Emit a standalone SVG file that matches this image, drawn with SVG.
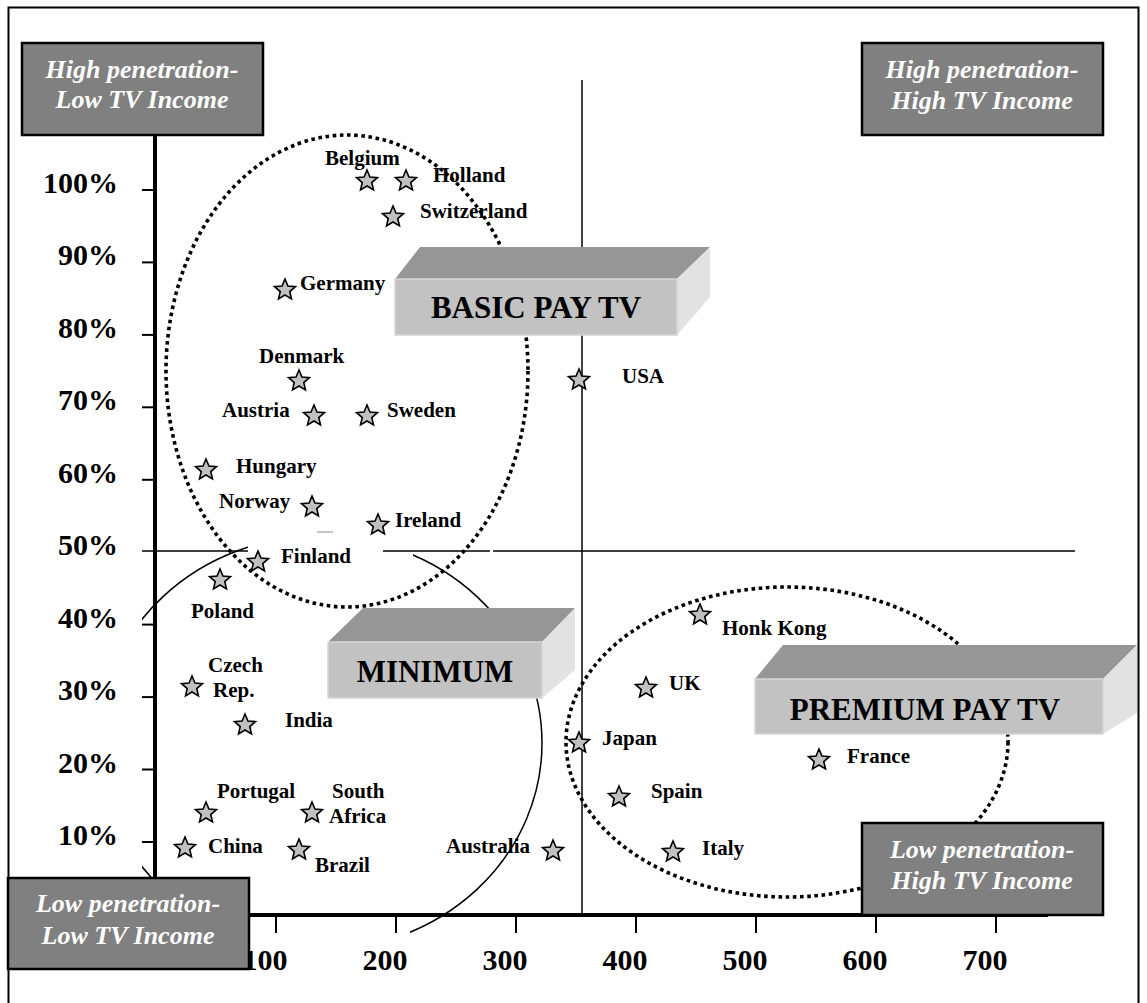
<svg xmlns="http://www.w3.org/2000/svg" xmlns:xlink="http://www.w3.org/1999/xlink" width="1147" height="1003" viewBox="0 0 1147 1003">
  <style>
    .frame { stroke: #000; stroke-width: 2; fill: none; }
    .axis { stroke: #000; stroke-width: 4; fill: none; }
    .tick { stroke: #000; stroke-width: 2; fill: none; }
    .thin { stroke: #000; stroke-width: 1.5; fill: none; }
    .dotted { stroke: #000; stroke-width: 3.6; fill: none; stroke-dasharray: 3.6 3.6; }
    .pct { font-family: "Liberation Serif", "Times New Roman", serif; font-weight: bold; font-size: 30px; fill: #000; text-anchor: end; }
    .xl { font-family: "Liberation Serif", "Times New Roman", serif; font-weight: bold; font-size: 30px; fill: #000; text-anchor: middle; }
    .lbl { font-family: "Liberation Serif", "Times New Roman", serif; font-weight: bold; font-size: 21px; fill: #000; }
    .corner rect { fill: #808080; stroke: #000; stroke-width: 2.5; }
    .corner text { font-family: "Liberation Serif", "Times New Roman", serif; font-weight: bold; font-style: italic; font-size: 26px; fill: #fff; text-anchor: middle; }
    .lid { fill: #969696; }
    .front { fill: #c2c2c2; stroke: #d6d6d6; stroke-width: 1.5; }
    .side { fill: #e2e2e2; }
    .boxlbl { font-family: "Liberation Serif", "Times New Roman", serif; font-weight: bold; font-size: 31px; fill: #000; text-anchor: middle; }
    .star { fill: #c0c0c0; stroke: #000; stroke-width: 1.6; stroke-linejoin: miter; }
  </style>
  <defs>
    <path id="star" class="star" d="M0,-11 L2.94,-4.05 L10.46,-3.4 L4.76,1.55 L6.47,8.9 L0,5 L-6.47,8.9 L-4.76,1.55 L-10.46,-3.4 L-2.94,-4.05 Z"/>
    <clipPath id="minClip">
      <path clip-rule="evenodd" d="M142,0 H1147 V1003 H142 Z M248,520 H413 V575 H248 Z M250,925 H410 V1003 H250 Z"/>
    </clipPath>
  </defs>

  <rect x="0" y="0" width="1147" height="1003" fill="#fff"/>
  <path class="frame" d="M8.5,1003 V7.5 H1138.5 V1003"/>

  <!-- axes, ticks and quadrant dividers -->
  <g id="axes">
    <line class="axis" x1="155" y1="135" x2="155" y2="917"/>
    <line class="axis" x1="155" y1="915" x2="1048" y2="915"/>
    <g class="tick">
      <line x1="142" y1="190" x2="155" y2="190"/>
      <line x1="142" y1="262.4" x2="155" y2="262.4"/>
      <line x1="142" y1="334.9" x2="155" y2="334.9"/>
      <line x1="142" y1="407.3" x2="155" y2="407.3"/>
      <line x1="142" y1="479.8" x2="155" y2="479.8"/>
      <line x1="142" y1="624.6" x2="155" y2="624.6"/>
      <line x1="142" y1="697.1" x2="155" y2="697.1"/>
      <line x1="142" y1="769.5" x2="155" y2="769.5"/>
      <line x1="142" y1="842" x2="155" y2="842"/>
      <line x1="276" y1="915" x2="276" y2="933"/>
      <line x1="396" y1="915" x2="396" y2="933"/>
      <line x1="516" y1="915" x2="516" y2="933"/>
      <line x1="636" y1="915" x2="636" y2="933"/>
      <line x1="756" y1="915" x2="756" y2="933"/>
      <line x1="876" y1="915" x2="876" y2="933"/>
      <line x1="996" y1="915" x2="996" y2="933"/>
    </g>
    <g class="thin">
      <line x1="582" y1="80" x2="582" y2="915"/>
      <line x1="142" y1="551" x2="248" y2="551"/>
      <line x1="383" y1="551" x2="490" y2="551"/>
      <line x1="493" y1="551" x2="1075" y2="551"/>
    </g>
    <line x1="317" y1="532" x2="333" y2="532" stroke="#b0b0b0" stroke-width="1.5"/>
    <g class="pct">
      <text x="118" y="193">100%</text>
      <text x="118" y="265">90%</text>
      <text x="118" y="338">80%</text>
      <text x="118" y="410">70%</text>
      <text x="118" y="483">60%</text>
      <text x="118" y="555">50%</text>
      <text x="118" y="628">40%</text>
      <text x="118" y="700">30%</text>
      <text x="118" y="773">20%</text>
      <text x="118" y="845">10%</text>
    </g>
    <g class="xl">
      <text x="265" y="970">100</text>
      <text x="385" y="970">200</text>
      <text x="505" y="970">300</text>
      <text x="625" y="970">400</text>
      <text x="745" y="970">500</text>
      <text x="865" y="970">600</text>
      <text x="985" y="970">700</text>
    </g>
  </g>

  <!-- group outlines -->
  <g id="connectors">
    <ellipse class="thin" cx="320" cy="743" rx="222" ry="207" clip-path="url(#minClip)"/>
    <ellipse class="dotted" cx="347" cy="371" rx="181" ry="236"/>
    <ellipse class="dotted" cx="787" cy="742" rx="221" ry="155"/>
  </g>

  <!-- countries -->
  <g id="countries">
    <g id="belgium"><use xlink:href="#star" x="367" y="181"/><text class="lbl" x="325" y="165">Belgium</text></g>
    <g id="holland"><use xlink:href="#star" x="406" y="181"/><text class="lbl" x="433" y="182">Holland</text></g>
    <g id="switzerland"><use xlink:href="#star" x="393" y="217"/><text class="lbl" x="420" y="218">Switzerland</text></g>
    <g id="germany"><use xlink:href="#star" x="285" y="290"/><text class="lbl" x="300" y="290">Germany</text></g>
    <g id="denmark"><use xlink:href="#star" x="299" y="381"/><text class="lbl" x="259" y="363">Denmark</text></g>
    <g id="austria"><use xlink:href="#star" x="314" y="416"/><text class="lbl" x="222" y="417">Austria</text></g>
    <g id="sweden"><use xlink:href="#star" x="367" y="416"/><text class="lbl" x="387" y="417">Sweden</text></g>
    <g id="usa"><use xlink:href="#star" x="579" y="380"/><text class="lbl" x="622" y="383">USA</text></g>
    <g id="hungary"><use xlink:href="#star" x="206" y="470"/><text class="lbl" x="236" y="473">Hungary</text></g>
    <g id="norway"><use xlink:href="#star" x="312" y="507"/><text class="lbl" x="219" y="508">Norway</text></g>
    <g id="ireland"><use xlink:href="#star" x="378" y="525"/><text class="lbl" x="395" y="527">Ireland</text></g>
    <g id="finland"><use xlink:href="#star" x="258" y="562"/><text class="lbl" x="281" y="563">Finland</text></g>
    <g id="poland"><use xlink:href="#star" x="220" y="580"/><text class="lbl" x="191" y="618">Poland</text></g>
    <g id="czech"><use xlink:href="#star" x="192" y="687"/><text class="lbl" x="208" y="672">Czech</text><text class="lbl" x="213" y="697">Rep.</text></g>
    <g id="india"><use xlink:href="#star" x="245" y="725"/><text class="lbl" x="285" y="727">India</text></g>
    <g id="portugal"><use xlink:href="#star" x="206" y="813"/><text class="lbl" x="217" y="798">Portugal</text></g>
    <g id="south-africa"><use xlink:href="#star" x="312" y="813"/><text class="lbl" x="332" y="798">South</text><text class="lbl" x="329" y="823">Africa</text></g>
    <g id="china"><use xlink:href="#star" x="185" y="848"/><text class="lbl" x="208" y="853">China</text></g>
    <g id="brazil"><use xlink:href="#star" x="299" y="850"/><text class="lbl" x="315" y="872">Brazil</text></g>
    <g id="australia"><use xlink:href="#star" x="553" y="851"/><text class="lbl" x="446" y="853">Australia</text></g>
    <g id="hong-kong"><use xlink:href="#star" x="700" y="615"/><text class="lbl" x="722" y="635">Honk Kong</text></g>
    <g id="uk"><use xlink:href="#star" x="646" y="688"/><text class="lbl" x="669" y="690">UK</text></g>
    <g id="japan"><use xlink:href="#star" x="579" y="743"/><text class="lbl" x="602" y="745">Japan</text></g>
    <g id="spain"><use xlink:href="#star" x="619" y="797"/><text class="lbl" x="651" y="798">Spain</text></g>
    <g id="italy"><use xlink:href="#star" x="673" y="852"/><text class="lbl" x="702" y="855">Italy</text></g>
    <g id="france"><use xlink:href="#star" x="819" y="760"/><text class="lbl" x="847" y="763">France</text></g>
  </g>

  <!-- segment blocks -->
  <g id="basic-pay-tv">
    <polygon class="lid" points="395,279 420,247 710,247 677,279"/>
    <polygon class="side" points="677,279 710,247 710,297 677,335"/>
    <rect class="front" x="395" y="279" width="282" height="56"/>
    <text class="boxlbl" x="536" y="318">BASIC PAY TV</text>
  </g>
  <g id="minimum">
    <polygon class="lid" points="328,642 363,608 575,608 542,642"/>
    <polygon class="side" points="542,642 575,608 575,670 542,698"/>
    <rect class="front" x="328" y="642" width="214" height="56"/>
    <text class="boxlbl" x="435" y="682">MINIMUM</text>
  </g>
  <g id="premium-pay-tv">
    <polygon class="lid" points="755,679 783,645 1137,645 1103,679"/>
    <polygon class="side" points="1103,679 1137,645 1137,713 1103,734"/>
    <rect class="front" x="755" y="679" width="348" height="55"/>
    <text class="boxlbl" x="925" y="720">PREMIUM PAY TV</text>
  </g>

  <!-- quadrant captions -->
  <g id="high-low" class="corner">
    <rect x="22" y="43" width="241" height="92"/>
    <text x="142" y="78">High penetration-</text>
    <text x="142" y="108">Low TV Income</text>
  </g>
  <g id="high-high" class="corner">
    <rect x="862" y="43" width="241" height="92"/>
    <text x="982" y="78">High penetration-</text>
    <text x="982" y="109">High TV Income</text>
  </g>
  <g id="low-low" class="corner">
    <rect x="8" y="878" width="241" height="91"/>
    <text x="128" y="912">Low penetration-</text>
    <text x="128" y="944">Low TV Income</text>
  </g>
  <g id="low-high" class="corner">
    <rect x="862" y="823" width="241" height="92"/>
    <text x="982" y="858">Low penetration-</text>
    <text x="982" y="889">High TV Income</text>
  </g>
</svg>
